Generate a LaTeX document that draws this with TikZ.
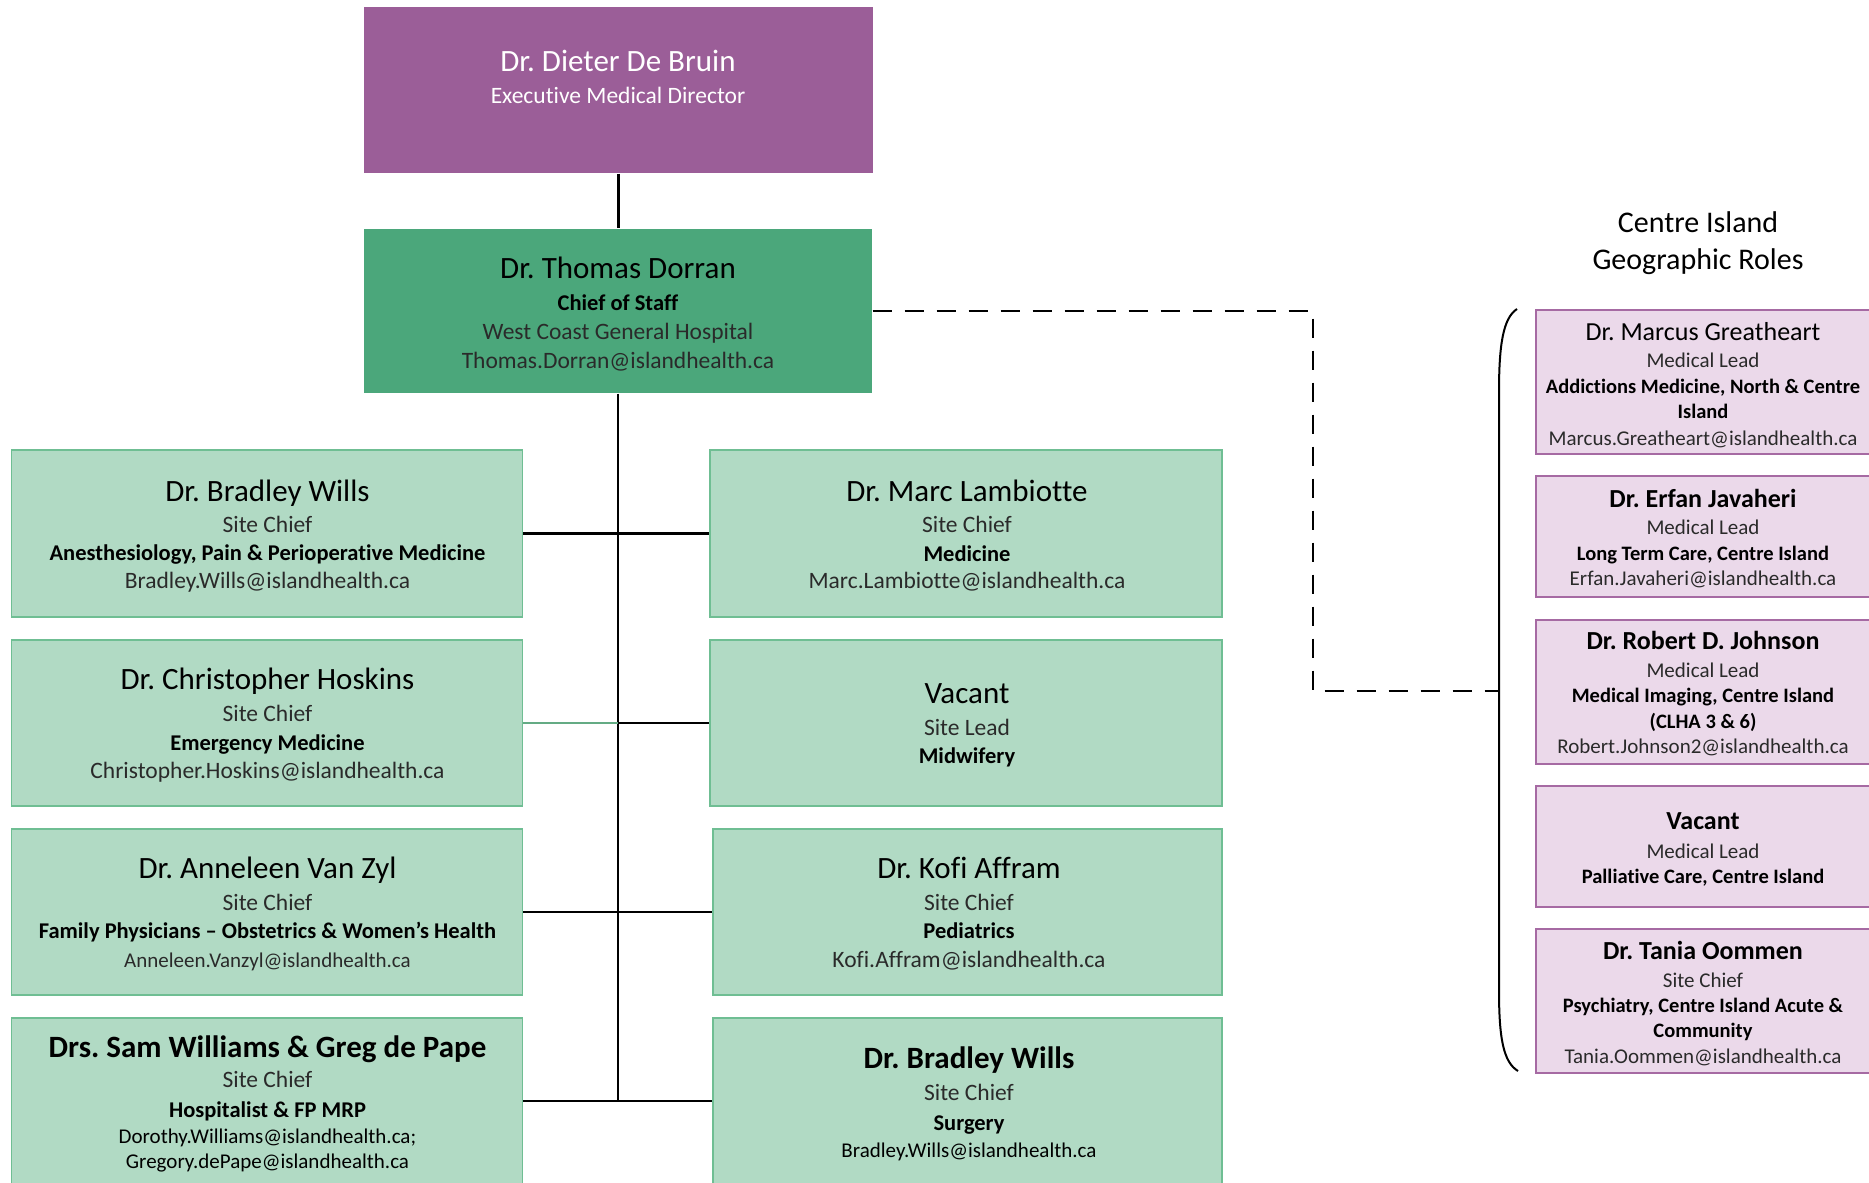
\documentclass[tikz,border=0pt]{standalone}
\usepackage{fontspec}
\setmainfont{Carlito}[Ligatures={NoCommon}]
\frenchspacing
\definecolor{topp}{HTML}{9B5E98}
\definecolor{dgreen}{HTML}{4BA77B}
\definecolor{lgreen}{HTML}{B1DAC4}
\definecolor{gborder}{HTML}{6FBE93}
\definecolor{lpurple}{HTML}{EBD9EA}
\definecolor{pborder}{HTML}{A66AA3}
\definecolor{txt}{HTML}{000000}
\definecolor{lt}{HTML}{2A2A2A}
\newcommand\tline[5]{\node[tl,#4] (#1) at (#2,#3) {#5};}
\begin{document}
\frenchspacing
\begin{tikzpicture}[x=1pt,y=-1pt,
  box/.style={rectangle, inner sep=0pt, line width=1.2pt},
  gbox/.style={box, fill=lgreen, draw=gborder},
  pbox/.style={box, fill=lpurple, draw=pborder},
  tl/.style={anchor=base, inner sep=0pt, text=txt},
  nm/.style={font=\fontsize{31}{36}\selectfont},
  nmb/.style={font=\fontsize{31}{36}\selectfont\bfseries},
  sub/.style={font=\fontsize{23.5}{28}\selectfont, text=lt},
  dep/.style={font=\fontsize{22.5}{27}\selectfont\bfseries},
  eml/.style={font=\fontsize{23.5}{28}\selectfont, text=lt},
  emls/.style={font=\fontsize{21}{25}\selectfont, text=lt},
  pnm/.style={font=\fontsize{26}{30}\selectfont},
  pnmb/.style={font=\fontsize{26}{30}\selectfont\bfseries},
  psub/.style={font=\fontsize{21}{25}\selectfont, text=lt},
  pdep/.style={font=\fontsize{20.5}{25}\selectfont\bfseries},
  ttl/.style={font=\fontsize{30}{34}\selectfont},
  conn/.style={line width=2.2pt, draw=black},
  gconn/.style={line width=2.2pt, draw=gborder!90!black},
  dconn/.style={line width=2.2pt, draw=black, dash pattern=on 19pt off 13pt},
]
\useasboundingbox (0,0) rectangle (1869,1183);
\fill[white] (0,0) rectangle (1869,1183);

% top boxes
\node[box, fill=topp, minimum width=509pt, minimum height=166pt] (dieter) at (618.5,90) {};
\node[box, fill=dgreen, minimum width=508pt, minimum height=164pt] (dorran) at (618,311) {};

% left column
\node[gbox, minimum width=511pt, minimum height=167pt] (bw) at (267.25,533.5) {};
\node[gbox, minimum width=511pt, minimum height=166pt] (ch) at (267.25,723) {};
\node[gbox, minimum width=511pt, minimum height=166pt] (avz) at (267.25,912) {};
\node[gbox, minimum width=511pt, minimum height=166pt] (sw) at (267.25,1101) {};
% right column
\node[gbox, minimum width=512pt, minimum height=167pt] (ml) at (966,533.5) {};
\node[gbox, minimum width=512pt, minimum height=166pt] (vac) at (966,723) {};
\node[gbox, minimum width=509pt, minimum height=166pt] (ka) at (967.5,912) {};
\node[gbox, minimum width=509pt, minimum height=166pt] (bws) at (967.5,1101) {};
% purple column
\node[pbox, minimum width=334pt, minimum height=144pt] (p1) at (1703,382) {};
\node[pbox, minimum width=334pt, minimum height=121pt] (p2) at (1703,536.5) {};
\node[pbox, minimum width=334pt, minimum height=144pt] (p3) at (1703,692) {};
\node[pbox, minimum width=334pt, minimum height=121pt] (p4) at (1703,846.5) {};
\node[pbox, minimum width=334pt, minimum height=144pt] (p5) at (1703,1001) {};

% connectors
\coordinate (spineend) at (618,1101);
\coordinate (sp2) at (618,723);
\coordinate (dc) at (1313,691);
\coordinate (bmid) at (1499,691);
\coordinate (btick) at (1485,691);
\coordinate (bt) at (1517,309);
\coordinate (bb) at (1518,1071);

\draw[conn] (dieter.south) -- (dieter.south |- dorran.north);
\draw[conn] (dorran.south) -- (spineend);
\draw[conn] (bw.east) -- (ml.west);
\draw[gconn] (ch.east) -- (sp2);
\draw[conn] (sp2) -- (vac.west);
\draw[conn] (avz.east) -- (ka.west);
\draw[conn] (sw.east) -- (bws.west);
\draw[dconn] (dorran.east) -| (dc) -- (bmid);

% brace
\draw[line width=2pt] (bt) .. controls (1503,318) and (1499,345) .. (1499,392) -- (1499,990) .. controls (1499,1037) and (1503,1062) .. (bb);
\draw[line width=2pt] (btick) -- (bmid);

% texts top
\tline{t1}{618}{71}{nm,text=white}{Dr. Dieter De Bruin}
\tline{t2}{618}{103}{font=\fontsize{23.5}{28}\selectfont,text=white}{Executive Medical Director}
\tline{t3}{618}{278}{nm}{Dr. Thomas Dorran}
\tline{t4}{618}{310}{dep}{Chief of Staff}
\tline{t5}{618}{339}{sub}{West Coast General Hospital}
\tline{t6}{618}{368}{eml}{Thomas.Dorran@islandhealth.ca}

% left column texts
\tline{l11}{267.5}{501}{nm}{Dr. Bradley Wills}
\tline{l12}{267.5}{532}{sub}{Site Chief}
\tline{l13}{267.5}{560}{dep}{Anesthesiology, Pain \& Perioperative Medicine}
\tline{l14}{267.5}{588}{eml}{Bradley.Wills@islandhealth.ca}

\tline{l21}{267.5}{689}{nm}{Dr. Christopher Hoskins}
\tline{l22}{267.5}{721}{sub}{Site Chief}
\tline{l23}{267.5}{750}{dep}{Emergency Medicine}
\tline{l24}{267.5}{778}{eml}{Christopher.Hoskins@islandhealth.ca}

\tline{l31}{267.5}{878}{nm}{Dr. Anneleen Van Zyl}
\tline{l32}{267.5}{910}{sub}{Site Chief}
\tline{l33}{267.5}{938}{dep}{Family Physicians – Obstetrics \& Women’s Health}
\tline{l34}{267.5}{967}{emls}{Anneleen.Vanzyl@islandhealth.ca}

\tline{l41}{267.5}{1057}{nmb}{Drs. Sam Williams \& Greg de Pape}
\tline{l42}{267.5}{1087}{sub}{Site Chief}
\tline{l43}{267.5}{1117}{dep}{Hospitalist \& FP MRP}
\tline{l44}{267.5}{1143}{emls,text=txt}{Dorothy.Williams@islandhealth.ca;}
\tline{l45}{267.5}{1168}{emls,text=txt}{Gregory.dePape@islandhealth.ca}

% right column texts
\tline{r11}{967}{501}{nm}{Dr. Marc Lambiotte}
\tline{r12}{967}{532}{sub}{Site Chief}
\tline{r13}{967}{561}{dep}{Medicine}
\tline{r14}{967}{588}{eml}{Marc.Lambiotte@islandhealth.ca}

\tline{r21}{967}{703}{nm}{Vacant}
\tline{r22}{967}{735}{sub}{Site Lead}
\tline{r23}{967}{763}{dep}{Midwifery}

\tline{r31}{969}{878}{nm}{Dr. Kofi Affram}
\tline{r32}{969}{910}{sub}{Site Chief}
\tline{r33}{969}{938}{dep}{Pediatrics}
\tline{r34}{969}{967}{eml}{Kofi.Affram@islandhealth.ca}

\tline{r41}{969}{1068}{nmb}{Dr. Bradley Wills}
\tline{r42}{969}{1100}{sub}{Site Chief}
\tline{r43}{969}{1130}{dep}{Surgery}
\tline{r44}{969}{1157}{emls,text=txt}{Bradley.Wills@islandhealth.ca}

% title
\tline{ti1}{1698}{232}{ttl}{Centre Island}
\tline{ti2}{1698}{269}{ttl}{Geographic Roles}

% purple texts
\tline{p11}{1703}{340}{pnm}{Dr. Marcus Greatheart}
\tline{p12}{1703}{367}{psub}{Medical Lead}
\tline{p13}{1703}{393}{pdep}{Addictions Medicine, North \& Centre}
\tline{p14}{1703}{418}{pdep}{Island}
\tline{p15}{1703}{445}{psub}{Marcus.Greatheart@islandhealth.ca}

\tline{p21}{1703}{507}{pnmb}{Dr. Erfan Javaheri}
\tline{p22}{1703}{534}{psub}{Medical Lead}
\tline{p23}{1703}{560}{pdep}{Long Term Care, Centre Island}
\tline{p24}{1703}{585}{psub}{Erfan.Javaheri@islandhealth.ca}

\tline{p31}{1703}{649}{pnmb}{Dr. Robert D. Johnson}
\tline{p32}{1703}{677}{psub}{Medical Lead}
\tline{p33}{1703}{702}{pdep}{Medical Imaging, Centre Island}
\tline{p34}{1703}{728}{pdep}{(CLHA 3 \& 6)}
\tline{p35}{1703}{753}{psub}{Robert.Johnson2@islandhealth.ca}

\tline{p41}{1703}{829}{pnmb}{Vacant}
\tline{p42}{1703}{858}{psub}{Medical Lead}
\tline{p43}{1703}{883}{pdep}{Palliative Care, Centre Island}

\tline{p51}{1703}{959}{pnmb}{Dr. Tania Oommen}
\tline{p52}{1703}{987}{psub}{Site Chief}
\tline{p53}{1703}{1012}{pdep}{Psychiatry, Centre Island Acute \&}
\tline{p54}{1703}{1037}{pdep}{Community}
\tline{p55}{1703}{1063}{psub}{Tania.Oommen@islandhealth.ca}
\end{tikzpicture}
\end{document}
